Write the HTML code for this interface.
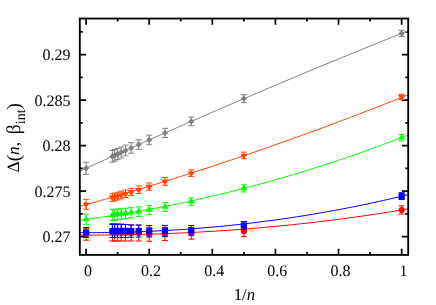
<!DOCTYPE html>
<html><head><meta charset="utf-8"><style>html,body{margin:0;padding:0;background:#fff}body{width:436px;height:305px;overflow:hidden;position:relative}</style></head><body>
<svg width="436" height="305" viewBox="0 0 436 305" style="position:absolute;left:0;top:0;will-change:transform">
<rect x="0" y="0" width="436" height="305" fill="#fff"/>
<path d="M86.10 254.9v-6.25M86.10 18.55v6.25M117.65 254.9v-2.9M117.65 18.55v2.9M149.21 254.9v-6.25M149.21 18.55v6.25M180.76 254.9v-2.9M180.76 18.55v2.9M212.32 254.9v-6.25M212.32 18.55v6.25M243.87 254.9v-2.9M243.87 18.55v2.9M275.43 254.9v-6.25M275.43 18.55v6.25M306.98 254.9v-2.9M306.98 18.55v2.9M338.54 254.9v-6.25M338.54 18.55v6.25M370.09 254.9v-2.9M370.09 18.55v2.9M401.65 254.9v-6.25M401.65 18.55v6.25M79.8 236.60h6.25M408.2 236.60h-6.25M79.8 213.86h2.9M408.2 213.86h-2.9M79.8 191.12h6.25M408.2 191.12h-6.25M79.8 168.39h2.9M408.2 168.39h-2.9M79.8 145.65h6.25M408.2 145.65h-6.25M79.8 122.91h2.9M408.2 122.91h-2.9M79.8 100.17h6.25M408.2 100.17h-6.25M79.8 77.44h2.9M408.2 77.44h-2.9M79.8 54.70h6.25M408.2 54.70h-6.25M79.8 31.96h2.9M408.2 31.96h-2.9" stroke="#000" stroke-width="1.7" fill="none"/>
<polyline points="79.80,235.09 83.91,235.10 88.01,235.10 92.11,235.09 96.22,235.08 100.33,235.05 104.43,235.02 108.53,234.98 112.64,234.94 116.75,234.88 120.85,234.82 124.96,234.75 129.06,234.67 133.17,234.58 137.27,234.49 141.38,234.39 145.48,234.27 149.59,234.16 153.69,234.03 157.80,233.89 161.90,233.75 166.01,233.60 170.11,233.44 174.22,233.27 178.32,233.09 182.43,232.90 186.53,232.71 190.63,232.51 194.74,232.30 198.85,232.08 202.95,231.85 207.06,231.61 211.16,231.37 215.27,231.11 219.37,230.85 223.47,230.58 227.58,230.30 231.69,230.01 235.79,229.71 239.89,229.41 244.00,229.09 248.11,228.77 252.21,228.43 256.32,228.09 260.42,227.74 264.52,227.38 268.63,227.01 272.74,226.63 276.84,226.25 280.95,225.85 285.05,225.45 289.16,225.03 293.26,224.61 297.37,224.17 301.47,223.73 305.58,223.28 309.68,222.82 313.79,222.35 317.89,221.87 322.00,221.38 326.10,220.88 330.21,220.38 334.31,219.86 338.42,219.33 342.52,218.80 346.62,218.25 350.73,217.70 354.84,217.13 358.94,216.56 363.05,215.97 367.15,215.38 371.25,214.78 375.36,214.16 379.47,213.54 383.57,212.91 387.68,212.26 391.78,211.61 395.89,210.95 399.99,210.27 404.10,209.59 408.20,208.90" fill="none" stroke="#ff0000" stroke-width="1"/>
<path d="M86.10 228.80V240.20M83.10 228.80H89.10M83.10 240.20H89.10M401.65 205.90V214.10M398.65 205.90H404.65M398.65 214.10H404.65M243.87 225.80V236.60M240.87 225.80H246.87M240.87 236.60H246.87M191.28 227.30V239.10M188.28 227.30H194.28M188.28 239.10H194.28M164.99 227.50V240.50M161.99 227.50H167.99M161.99 240.50H167.99M149.21 227.40V241.20M146.21 227.40H152.21M146.21 241.20H152.21M138.69 225.20V241.00M135.69 225.20H141.69M135.69 241.00H141.69M131.18 225.20V241.00M128.18 225.20H134.18M128.18 241.00H134.18M125.54 224.40V241.00M122.54 224.40H128.54M122.54 241.00H128.54M121.16 224.00V241.00M118.16 224.00H124.16M118.16 241.00H124.16M117.65 223.80V241.00M114.65 223.80H120.65M114.65 241.00H120.65M114.79 223.60V241.00M111.79 223.60H117.79M111.79 241.00H117.79M112.40 223.45V240.95M109.40 223.45H115.40M109.40 240.95H115.40" stroke="#ff0000" stroke-width="1" fill="none"/>
<circle cx="86.10" cy="234.50" r="3.1" fill="#ff0000"/>
<circle cx="401.65" cy="210.00" r="3.1" fill="#ff0000"/>
<circle cx="243.87" cy="231.20" r="3.1" fill="#ff0000"/>
<circle cx="191.28" cy="233.20" r="3.1" fill="#ff0000"/>
<circle cx="164.99" cy="234.00" r="3.1" fill="#ff0000"/>
<circle cx="149.21" cy="234.30" r="3.1" fill="#ff0000"/>
<circle cx="138.69" cy="233.10" r="3.1" fill="#ff0000"/>
<circle cx="131.18" cy="233.10" r="3.1" fill="#ff0000"/>
<circle cx="125.54" cy="232.70" r="3.1" fill="#ff0000"/>
<circle cx="121.16" cy="232.50" r="3.1" fill="#ff0000"/>
<circle cx="117.65" cy="232.40" r="3.1" fill="#ff0000"/>
<circle cx="114.79" cy="232.30" r="3.1" fill="#ff0000"/>
<circle cx="112.40" cy="232.20" r="3.1" fill="#ff0000"/>
<polyline points="79.80,232.69 83.91,232.70 88.01,232.70 92.11,232.69 96.22,232.67 100.33,232.63 104.43,232.59 108.53,232.53 112.64,232.46 116.75,232.38 120.85,232.29 124.96,232.18 129.06,232.07 133.17,231.94 137.27,231.80 141.38,231.65 145.48,231.48 149.59,231.31 153.69,231.12 157.80,230.92 161.90,230.71 166.01,230.48 170.11,230.25 174.22,230.00 178.32,229.74 182.43,229.47 186.53,229.18 190.63,228.89 194.74,228.58 198.85,228.25 202.95,227.92 207.06,227.57 211.16,227.21 215.27,226.84 219.37,226.46 223.47,226.06 227.58,225.65 231.69,225.23 235.79,224.79 239.89,224.35 244.00,223.89 248.11,223.41 252.21,222.93 256.32,222.43 260.42,221.92 264.52,221.39 268.63,220.85 272.74,220.30 276.84,219.74 280.95,219.16 285.05,218.57 289.16,217.97 293.26,217.35 297.37,216.72 301.47,216.08 305.58,215.43 309.68,214.76 313.79,214.07 317.89,213.38 322.00,212.67 326.10,211.95 330.21,211.21 334.31,210.46 338.42,209.70 342.52,208.92 346.62,208.13 350.73,207.32 354.84,206.51 358.94,205.68 363.05,204.83 367.15,203.97 371.25,203.10 375.36,202.21 379.47,201.31 383.57,200.40 387.68,199.47 391.78,198.52 395.89,197.57 399.99,196.60 404.10,195.61 408.20,194.61" fill="none" stroke="#0000ff" stroke-width="1"/>
<path d="M86.10 227.50V237.50M83.10 227.50H89.10M83.10 237.50H89.10M401.65 192.70V199.50M398.65 192.70H404.65M398.65 199.50H404.65M243.87 221.50V229.50M240.87 221.50H246.87M240.87 229.50H246.87M191.28 225.50V235.30M188.28 225.50H194.28M188.28 235.30H194.28M164.99 225.40V236.60M161.99 225.40H167.99M161.99 236.60H167.99M149.21 225.50V236.90M146.21 225.50H152.21M146.21 236.90H152.21M138.69 225.00V237.00M135.69 225.00H141.69M135.69 237.00H141.69M131.18 224.80V237.20M128.18 224.80H134.18M128.18 237.20H134.18M125.54 224.50V237.50M122.54 224.50H128.54M122.54 237.50H128.54M121.16 224.50V237.50M118.16 224.50H124.16M118.16 237.50H124.16M117.65 224.50V237.50M114.65 224.50H120.65M114.65 237.50H120.65M114.79 224.50V237.50M111.79 224.50H117.79M111.79 237.50H117.79M112.40 224.50V237.50M109.40 224.50H115.40M109.40 237.50H115.40" stroke="#0000ff" stroke-width="1" fill="none"/>
<rect x="83.00" y="229.40" width="6.2" height="6.2" fill="#0000ff"/>
<rect x="398.55" y="193.00" width="6.2" height="6.2" fill="#0000ff"/>
<rect x="240.77" y="222.40" width="6.2" height="6.2" fill="#0000ff"/>
<rect x="188.18" y="227.30" width="6.2" height="6.2" fill="#0000ff"/>
<rect x="161.89" y="227.90" width="6.2" height="6.2" fill="#0000ff"/>
<rect x="146.11" y="228.10" width="6.2" height="6.2" fill="#0000ff"/>
<rect x="135.59" y="227.90" width="6.2" height="6.2" fill="#0000ff"/>
<rect x="128.08" y="227.90" width="6.2" height="6.2" fill="#0000ff"/>
<rect x="122.44" y="227.90" width="6.2" height="6.2" fill="#0000ff"/>
<rect x="118.06" y="227.90" width="6.2" height="6.2" fill="#0000ff"/>
<rect x="114.55" y="227.90" width="6.2" height="6.2" fill="#0000ff"/>
<rect x="111.69" y="227.90" width="6.2" height="6.2" fill="#0000ff"/>
<rect x="109.30" y="227.90" width="6.2" height="6.2" fill="#0000ff"/>
<polyline points="79.80,220.20 83.91,219.66 88.01,219.11 92.11,218.55 96.22,217.98 100.33,217.39 104.43,216.79 108.53,216.17 112.64,215.54 116.75,214.90 120.85,214.25 124.96,213.58 129.06,212.89 133.17,212.20 137.27,211.49 141.38,210.77 145.48,210.03 149.59,209.28 153.69,208.52 157.80,207.74 161.90,206.95 166.01,206.15 170.11,205.33 174.22,204.50 178.32,203.66 182.43,202.80 186.53,201.93 190.63,201.05 194.74,200.15 198.85,199.24 202.95,198.32 207.06,197.38 211.16,196.43 215.27,195.47 219.37,194.49 223.47,193.50 227.58,192.50 231.69,191.48 235.79,190.45 239.89,189.40 244.00,188.35 248.11,187.27 252.21,186.19 256.32,185.09 260.42,183.98 264.52,182.85 268.63,181.72 272.74,180.56 276.84,179.40 280.95,178.22 285.05,177.03 289.16,175.82 293.26,174.60 297.37,173.37 301.47,172.13 305.58,170.87 309.68,169.60 313.79,168.31 317.89,167.01 322.00,165.70 326.10,164.37 330.21,163.03 334.31,161.68 338.42,160.31 342.52,158.93 346.62,157.54 350.73,156.13 354.84,154.71 358.94,153.28 363.05,151.83 367.15,150.37 371.25,148.90 375.36,147.41 379.47,145.91 383.57,144.40 387.68,142.87 391.78,141.33 395.89,139.78 399.99,138.21 404.10,136.63 408.20,135.03" fill="none" stroke="#00ff00" stroke-width="1"/>
<path d="M86.10 214.07V224.67M83.10 214.07H89.10M83.10 224.67H89.10M401.65 134.52V140.92M398.65 134.52H404.65M398.65 140.92H404.65M243.87 184.78V191.98M240.87 184.78H246.87M240.87 191.98H246.87M191.28 197.91V205.31M188.28 197.91H194.28M188.28 205.31H194.28M164.99 202.65V211.45M161.99 202.65H167.99M161.99 211.45H167.99M149.21 205.55V214.55M146.21 205.55H152.21M146.21 214.55H152.21M138.69 206.84V216.44M135.69 206.84H141.69M135.69 216.44H141.69M131.18 207.64V217.64M128.18 207.64H134.18M128.18 217.64H134.18M125.54 208.28V218.48M122.54 208.28H128.54M122.54 218.48H128.54M121.16 208.80V219.20M118.16 208.80H124.16M118.16 219.20H124.16M117.65 209.16V219.76M114.65 209.16H120.65M114.65 219.76H120.65M114.79 209.31V220.31M111.79 209.31H117.79M111.79 220.31H117.79M112.40 209.58V220.78M109.40 209.58H115.40M109.40 220.78H115.40" stroke="#00ff00" stroke-width="1" fill="none"/>
<polygon points="82.50,221.17 89.70,221.17 86.10,215.34" fill="#00ff00"/>
<polygon points="398.05,139.52 405.25,139.52 401.65,133.69" fill="#00ff00"/>
<polygon points="240.27,190.18 247.47,190.18 243.87,184.35" fill="#00ff00"/>
<polygon points="187.68,203.41 194.88,203.41 191.28,197.58" fill="#00ff00"/>
<polygon points="161.39,208.85 168.59,208.85 164.99,203.02" fill="#00ff00"/>
<polygon points="145.61,211.85 152.81,211.85 149.21,206.02" fill="#00ff00"/>
<polygon points="135.09,213.44 142.29,213.44 138.69,207.61" fill="#00ff00"/>
<polygon points="127.58,214.44 134.78,214.44 131.18,208.61" fill="#00ff00"/>
<polygon points="121.94,215.18 129.14,215.18 125.54,209.35" fill="#00ff00"/>
<polygon points="117.56,215.80 124.76,215.80 121.16,209.97" fill="#00ff00"/>
<polygon points="114.05,216.26 121.25,216.26 117.65,210.43" fill="#00ff00"/>
<polygon points="111.19,216.61 118.39,216.61 114.79,210.78" fill="#00ff00"/>
<polygon points="108.80,216.98 116.00,216.98 112.40,211.15" fill="#00ff00"/>
<polyline points="79.80,206.46 83.91,205.31 88.01,204.16 92.11,203.01 96.22,201.84 100.33,200.67 104.43,199.49 108.53,198.31 112.64,197.12 116.75,195.93 120.85,194.72 124.96,193.52 129.06,192.30 133.17,191.08 137.27,189.85 141.38,188.62 145.48,187.38 149.59,186.13 153.69,184.88 157.80,183.62 161.90,182.35 166.01,181.08 170.11,179.80 174.22,178.52 178.32,177.22 182.43,175.93 186.53,174.62 190.63,173.31 194.74,172.00 198.85,170.67 202.95,169.34 207.06,168.01 211.16,166.66 215.27,165.31 219.37,163.96 223.47,162.60 227.58,161.23 231.69,159.86 235.79,158.48 239.89,157.09 244.00,155.69 248.11,154.30 252.21,152.89 256.32,151.48 260.42,150.06 264.52,148.63 268.63,147.20 272.74,145.76 276.84,144.32 280.95,142.87 285.05,141.41 289.16,139.95 293.26,138.48 297.37,137.00 301.47,135.52 305.58,134.03 309.68,132.53 313.79,131.03 317.89,129.52 322.00,128.01 326.10,126.49 330.21,124.96 334.31,123.43 338.42,121.89 342.52,120.34 346.62,118.79 350.73,117.23 354.84,115.66 358.94,114.09 363.05,112.51 367.15,110.93 371.25,109.34 375.36,107.74 379.47,106.14 383.57,104.53 387.68,102.91 391.78,101.29 395.89,99.66 399.99,98.02 404.10,96.38 408.20,94.73" fill="none" stroke="#ff4500" stroke-width="1"/>
<path d="M86.10 199.30V209.30M83.10 199.30H89.10M83.10 209.30H89.10M401.65 94.25V99.55M398.65 94.25H404.65M398.65 99.55H404.65M243.87 152.14V158.74M240.87 152.14H246.87M240.87 158.74H246.87M191.28 169.80V176.40M188.28 169.80H194.28M188.28 176.40H194.28M164.99 177.50V185.30M161.99 177.50H167.99M161.99 185.30H167.99M149.21 182.99V190.29M146.21 182.99H152.21M146.21 190.29H152.21M138.69 185.93V193.53M135.69 185.93H141.69M135.69 193.53H141.69M131.18 188.27V195.67M128.18 188.27H134.18M128.18 195.67H134.18M125.54 189.94V197.54M122.54 189.94H128.54M122.54 197.54H128.54M121.16 191.23V198.83M118.16 191.23H124.16M118.16 198.83H124.16M117.65 192.26V199.86M114.65 192.26H120.65M114.65 199.86H120.65M114.79 193.10V200.70M111.79 193.10H117.79M111.79 200.70H117.79M112.40 193.79V201.39M109.40 193.79H115.40M109.40 201.39H115.40" stroke="#ff4500" stroke-width="1" fill="none"/>
<polygon points="82.50,202.50 89.70,202.50 86.10,208.33" fill="#ff4500"/>
<polygon points="398.05,95.10 405.25,95.10 401.65,100.93" fill="#ff4500"/>
<polygon points="240.27,153.64 247.47,153.64 243.87,159.47" fill="#ff4500"/>
<polygon points="187.68,171.30 194.88,171.30 191.28,177.13" fill="#ff4500"/>
<polygon points="161.39,179.60 168.59,179.60 164.99,185.43" fill="#ff4500"/>
<polygon points="145.61,184.84 152.81,184.84 149.21,190.67" fill="#ff4500"/>
<polygon points="135.09,187.93 142.29,187.93 138.69,193.76" fill="#ff4500"/>
<polygon points="127.58,190.17 134.78,190.17 131.18,196.00" fill="#ff4500"/>
<polygon points="121.94,191.94 129.14,191.94 125.54,197.77" fill="#ff4500"/>
<polygon points="117.56,193.23 124.76,193.23 121.16,199.06" fill="#ff4500"/>
<polygon points="114.05,194.26 121.25,194.26 117.65,200.09" fill="#ff4500"/>
<polygon points="111.19,195.10 118.39,195.10 114.79,200.93" fill="#ff4500"/>
<polygon points="108.80,195.79 116.00,195.79 112.40,201.62" fill="#ff4500"/>
<polyline points="79.80,171.16 83.91,169.29 88.01,167.42 92.11,165.56 96.22,163.69 100.33,161.83 104.43,159.98 108.53,158.12 112.64,156.27 116.75,154.43 120.85,152.58 124.96,150.74 129.06,148.90 133.17,147.07 137.27,145.23 141.38,143.40 145.48,141.58 149.59,139.75 153.69,137.93 157.80,136.11 161.90,134.30 166.01,132.48 170.11,130.68 174.22,128.87 178.32,127.07 182.43,125.27 186.53,123.47 190.63,121.67 194.74,119.88 198.85,118.09 202.95,116.31 207.06,114.52 211.16,112.74 215.27,110.97 219.37,109.19 223.47,107.42 227.58,105.65 231.69,103.89 235.79,102.13 239.89,100.37 244.00,98.61 248.11,96.86 252.21,95.11 256.32,93.36 260.42,91.62 264.52,89.87 268.63,88.14 272.74,86.40 276.84,84.67 280.95,82.94 285.05,81.21 289.16,79.49 293.26,77.77 297.37,76.05 301.47,74.33 305.58,72.62 309.68,70.91 313.79,69.20 317.89,67.50 322.00,65.80 326.10,64.10 330.21,62.41 334.31,60.72 338.42,59.03 342.52,57.34 346.62,55.66 350.73,53.98 354.84,52.30 358.94,50.63 363.05,48.96 367.15,47.29 371.25,45.63 375.36,43.96 379.47,42.31 383.57,40.65 387.68,39.00 391.78,37.35 395.89,35.70 399.99,34.05 404.10,32.41 408.20,30.77" fill="none" stroke="#808080" stroke-width="1"/>
<path d="M86.10 162.24V174.34M83.10 162.24H89.10M83.10 174.34H89.10M401.65 30.39V36.39M398.65 30.39H404.65M398.65 36.39H404.65M243.87 94.66V102.66M240.87 94.66H246.87M240.87 102.66H246.87M191.28 117.09V125.69M188.28 117.09H194.28M188.28 125.69H194.28M164.99 128.33V137.53M161.99 128.33H167.99M161.99 137.53H167.99M149.21 135.12V144.72M146.21 135.12H152.21M146.21 144.72H152.21M138.69 139.75V149.45M135.69 139.75H141.69M135.69 149.45H141.69M131.18 142.65V153.25M128.18 142.65H134.18M128.18 153.25H134.18M125.54 145.08V155.88M122.54 145.08H128.54M122.54 155.88H128.54M121.16 146.94V157.94M118.16 146.94H124.16M118.16 157.94H124.16M117.65 148.42V159.62M114.65 148.42H120.65M114.65 159.62H120.65M114.79 149.61V161.01M111.79 149.61H117.79M111.79 161.01H117.79M112.40 150.58V162.18M109.40 150.58H115.40M109.40 162.18H115.40" stroke="#808080" stroke-width="1" fill="none"/>
<polygon points="83.10,168.29 86.10,164.99 89.10,168.29 86.10,171.59" fill="#808080"/>
<polygon points="398.65,33.39 401.65,30.09 404.65,33.39 401.65,36.69" fill="#808080"/>
<polygon points="240.87,98.66 243.87,95.36 246.87,98.66 243.87,101.96" fill="#808080"/>
<polygon points="188.28,121.39 191.28,118.09 194.28,121.39 191.28,124.69" fill="#808080"/>
<polygon points="161.99,132.93 164.99,129.63 167.99,132.93 164.99,136.23" fill="#808080"/>
<polygon points="146.21,139.92 149.21,136.62 152.21,139.92 149.21,143.22" fill="#808080"/>
<polygon points="135.69,144.60 138.69,141.30 141.69,144.60 138.69,147.90" fill="#808080"/>
<polygon points="128.18,147.95 131.18,144.65 134.18,147.95 131.18,151.25" fill="#808080"/>
<polygon points="122.54,150.48 125.54,147.18 128.54,150.48 125.54,153.78" fill="#808080"/>
<polygon points="118.16,152.44 121.16,149.14 124.16,152.44 121.16,155.74" fill="#808080"/>
<polygon points="114.65,154.02 117.65,150.72 120.65,154.02 117.65,157.32" fill="#808080"/>
<polygon points="111.79,155.31 114.79,152.01 117.79,155.31 114.79,158.61" fill="#808080"/>
<polygon points="109.40,156.38 112.40,153.08 115.40,156.38 112.40,159.68" fill="#808080"/>
<rect x="79.8" y="18.55" width="328.40" height="236.35" fill="none" stroke="#000" stroke-width="1.85"/>
<text x="88.00" y="275.8" text-anchor="middle" style="text-rendering:geometricPrecision;font-family:'Liberation Serif',serif;font-size:16px;fill:#000">0</text>
<text x="151.11" y="275.8" text-anchor="middle" style="text-rendering:geometricPrecision;font-family:'Liberation Serif',serif;font-size:16px;fill:#000">0.2</text>
<text x="214.22" y="275.8" text-anchor="middle" style="text-rendering:geometricPrecision;font-family:'Liberation Serif',serif;font-size:16px;fill:#000">0.4</text>
<text x="277.33" y="275.8" text-anchor="middle" style="text-rendering:geometricPrecision;font-family:'Liberation Serif',serif;font-size:16px;fill:#000">0.6</text>
<text x="340.44" y="275.8" text-anchor="middle" style="text-rendering:geometricPrecision;font-family:'Liberation Serif',serif;font-size:16px;fill:#000">0.8</text>
<text x="403.55" y="275.8" text-anchor="middle" style="text-rendering:geometricPrecision;font-family:'Liberation Serif',serif;font-size:16px;fill:#000">1</text>
<text x="70.4" y="242.20" text-anchor="end" style="text-rendering:geometricPrecision;font-family:'Liberation Serif',serif;font-size:16px;fill:#000">0.27</text>
<text x="70.4" y="196.72" text-anchor="end" style="text-rendering:geometricPrecision;font-family:'Liberation Serif',serif;font-size:16px;fill:#000">0.275</text>
<text x="70.4" y="151.25" text-anchor="end" style="text-rendering:geometricPrecision;font-family:'Liberation Serif',serif;font-size:16px;fill:#000">0.28</text>
<text x="70.4" y="105.78" text-anchor="end" style="text-rendering:geometricPrecision;font-family:'Liberation Serif',serif;font-size:16px;fill:#000">0.285</text>
<text x="70.4" y="60.30" text-anchor="end" style="text-rendering:geometricPrecision;font-family:'Liberation Serif',serif;font-size:16px;fill:#000">0.29</text>
<text x="233.7" y="299.6" style="text-rendering:geometricPrecision;font-family:'Liberation Serif',serif;font-size:16.8px;fill:#000">1/<tspan font-style="italic">n</tspan></text>
<text transform="translate(19.3,172.4) rotate(-90)" style="text-rendering:geometricPrecision;font-family:'Liberation Serif',serif;font-size:17.3px;fill:#000">Δ<tspan font-size="19" dy="1">(</tspan><tspan font-style="italic" dy="-1">n</tspan>, <tspan dx="3.5" dy="1" font-size="19.5">β</tspan><tspan dy="5" font-size="14">int</tspan><tspan dy="-5" font-size="19">)</tspan></text>
</svg>
</body></html>
